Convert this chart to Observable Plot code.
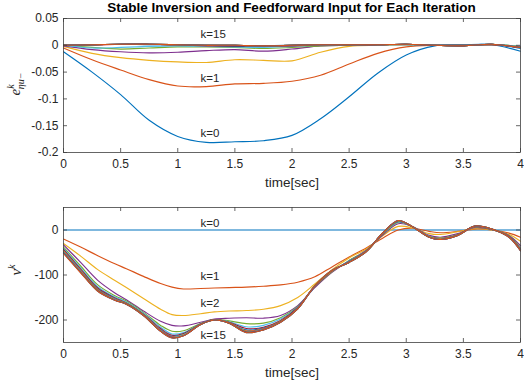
<!DOCTYPE html>
<html>
<head>
<meta charset="utf-8">
<script src="https://cdn.jsdelivr.net/npm/d3@7"></script>
<script src="https://cdn.jsdelivr.net/npm/@observablehq/plot@0.6"></script>
<style>
  html, body { margin: 0; padding: 0; background: #fff; }
  #wrap { position: relative; width: 524px; height: 384px; overflow: hidden; }
  #wrap svg { position: absolute; left: 0; }
  #title { position: absolute; left: 63px; width: 457px; top: 0; height: 17px; line-height: 17px;
           text-align: center; font: bold 13.5px "Liberation Sans", Arial, sans-serif; color: #000; z-index: 2; }
</style>
</head>
<body>
<div id="wrap"><div id="title">Stable Inversion and Feedforward Input for Each Iteration</div></div>
<script>
// ---------- data ----------
const xTicks = [0, 0.5, 1, 1.5, 2, 2.5, 3, 3.5, 4];
const yTicksTop = [0.05, 0, -0.05, -0.1, -0.15, -0.2];
const yTicksBottom = [0, -100, -200];
const colors = ["#0072BD", "#D95319", "#EDB120", "#7E2F8E", "#77AC30", "#4DBEEE", "#A2142F"];

// top panel: e^k over time
const tTop = [0, 0.25, 0.5, 0.75, 1, 1.25, 1.5, 1.75, 2, 2.25, 2.5, 2.75, 3, 3.25, 3.5, 3.75, 4];
const e0  = [-0.012, -0.050, -0.092, -0.140, -0.170, -0.181, -0.180, -0.178, -0.168, -0.137, -0.096, -0.052, -0.018, -0.001, 0.001, 0.001, -0.011];
const e1  = [-0.005, -0.027, -0.046, -0.064, -0.076, -0.077, -0.072, -0.071, -0.067, -0.056, -0.035, -0.015, -0.003, 0.000, 0.000, 0.001, -0.004];
const e2  = [-0.002, -0.015, -0.023, -0.028, -0.031, -0.032, -0.027, -0.028, -0.029, -0.013, -0.002, 0.000, 0.001, 0.000, 0.000, 0.001, -0.003];
const e3  = [-0.001, -0.008, -0.012, -0.014, -0.013, -0.010, -0.008, -0.011, -0.007, -0.001, 0.000, 0.001, 0.001, 0.000, 0.000, 0.001, -0.002];
const e4  = [0.000, -0.004, -0.007, -0.005, -0.003, -0.003, -0.004, -0.006, -0.004, -0.001, 0.000, 0.001, 0.001, 0.000, 0.000, 0.001, -0.003];
const e5  = [0.000, -0.005, -0.004, -0.002, -0.001, -0.002, -0.003, -0.004, -0.002, 0.000, 0.001, 0.001, 0.001, 0.000, 0.000, 0.001, -0.002];
const e6  = [0.000, 0.000, 0.002, 0.002, 0.001, -0.001, -0.002, -0.002, -0.001, 0.001, 0.001, 0.001, 0.002, 0.000, 0.000, 0.001, -0.003];
const e7  = [0.000, 0.001, 0.002, 0.001, 0.001, 0.000, -0.001, -0.001, 0.000, 0.001, 0.001, 0.001, 0.002, 0.000, 0.000, 0.002, -0.006];
const e8  = [0.000, 0.001, 0.002, 0.002, 0.001, 0.000, 0.000, -0.001, 0.000, 0.001, 0.001, 0.001, 0.002, 0.000, -0.001, 0.002, -0.004];
const e9  = [0.000, 0.001, 0.002, 0.002, 0.001, 0.000, 0.000, -0.001, 0.000, 0.001, 0.001, 0.001, 0.002, 0.000, -0.001, 0.002, -0.003];
const e10 = [0.000, 0.001, 0.002, 0.002, 0.001, 0.000, 0.000, -0.001, 0.000, 0.001, 0.001, 0.001, 0.002, 0.000, -0.001, 0.002, -0.004];
const e11 = [0.000, 0.001, 0.002, 0.002, 0.001, 0.000, 0.000, -0.001, 0.000, 0.001, 0.001, 0.001, 0.002, 0.000, -0.001, 0.002, -0.003];
const e12 = [0.000, 0.001, 0.002, 0.002, 0.001, 0.000, 0.000, -0.001, 0.000, 0.001, 0.001, 0.001, 0.002, 0.000, -0.001, 0.002, -0.003];
const e13 = [0.000, 0.001, 0.002, 0.002, 0.001, 0.000, 0.000, -0.001, 0.000, 0.001, 0.001, 0.001, 0.002, 0.000, -0.001, 0.002, -0.004];
const e14 = [0.000, 0.001, 0.002, 0.002, 0.001, 0.000, 0.000, -0.001, 0.000, 0.001, 0.001, 0.001, 0.002, 0.000, -0.001, 0.002, -0.004];
const e15 = [0.000, 0.001, 0.002, 0.002, 0.001, 0.000, 0.000, -0.001, 0.000, 0.001, 0.001, 0.001, 0.002, 0.000, -0.001, 0.002, -0.004];

// bottom panel: v^k over time
const tBot = [0, 0.15, 0.3, 0.45, 0.55, 0.7, 0.85, 0.95, 1.05, 1.2, 1.32, 1.45, 1.6, 1.75, 1.9, 2.05, 2.2, 2.35, 2.5, 2.65, 2.8, 2.93, 3.05, 3.2, 3.3, 3.45, 3.6, 3.75, 3.9, 4.0];
const v0  = [0, 0, 0, 0, 0, 0, 0, 0, 0, 0, 0, 0, 0, 0, 0, 0, 0, 0, 0, 0, 0, 0, 0, 0, 0, 0, 0, 0, 0, 0];
const v1  = [-20, -38, -57, -75, -86, -103, -119, -127, -131, -130, -129, -128, -127, -125, -122, -116, -104, -82, -60, -40, -17, 0, 4, -3, -6, -3, 2, 0, -7, -16];
const v2  = [-30, -58, -88, -112, -128, -152, -176, -188, -190, -186, -182, -180, -179, -176, -168, -150, -120, -88, -62, -42, -12, 8, 5, -8, -10, -4, 3, 0, -10, -25];
const v3  = [-33, -72, -112, -140, -155, -180, -203, -212, -213, -205, -198, -196, -195, -196, -190, -168, -128, -94, -68, -45, -10, 14, 8, -12, -16, -8, 5, 1, -12, -35];
const v4  = [-38, -80, -122, -146, -158, -183, -212, -225, -224, -208, -199, -202, -208, -207, -195, -170, -126, -93, -68, -46, -8, 17, 8, -14, -18, -10, 6, 1, -13, -40];
const v5  = [-41, -84, -126, -149, -160, -185, -216, -231, -228, -209, -199, -204, -215, -212, -198, -171, -125, -92, -69, -47, -7, 18, 8, -14, -19, -11, 7, 1, -14, -42];
const v6  = [-43, -87, -129, -151, -162, -187, -219, -234, -230, -209, -199, -205, -219, -216, -201, -172, -125, -92, -70, -47, -6, 19, 8, -15, -19, -11, 7, 1, -14, -43];
const v7  = [-45, -89, -131, -152, -163, -188, -221, -236, -232, -209, -199, -206, -222, -218, -203, -173, -125, -91, -70, -47, -6, 19, 8, -15, -20, -11, 8, 1, -15, -44];
const v8  = [-46, -90, -132, -153, -163, -188, -222, -237, -233, -210, -199, -206, -224, -219, -203, -174, -124, -91, -71, -47, -6, 20, 8, -15, -20, -11, 8, 1, -15, -44];
const v9  = [-47, -91, -133, -154, -164, -189, -223, -238, -233, -210, -200, -206, -225, -220, -204, -174, -124, -91, -71, -48, -6, 20, 8, -15, -20, -12, 8, 2, -15, -45];
const v10 = [-48, -92, -134, -154, -164, -189, -223, -238, -234, -210, -200, -207, -226, -220, -204, -174, -124, -90, -71, -48, -5, 20, 8, -16, -21, -12, 8, 2, -15, -45];
const v11 = [-49, -93, -134, -155, -164, -189, -224, -239, -234, -210, -200, -207, -226, -221, -204, -175, -124, -90, -72, -48, -5, 20, 8, -16, -21, -12, 9, 2, -16, -45];
const v12 = [-50, -93, -135, -155, -165, -190, -224, -239, -234, -210, -200, -207, -227, -221, -205, -175, -124, -90, -72, -48, -5, 21, 8, -16, -21, -12, 9, 2, -16, -46];
const v13 = [-51, -94, -135, -156, -165, -190, -225, -239, -235, -210, -200, -207, -227, -222, -205, -175, -124, -90, -72, -48, -5, 21, 8, -16, -21, -12, 9, 2, -16, -46];
const v14 = [-51, -94, -136, -156, -165, -190, -225, -240, -235, -210, -200, -207, -228, -222, -205, -175, -124, -90, -72, -48, -5, 21, 8, -16, -21, -12, 9, 2, -16, -46];
const v15 = [-52, -95, -136, -156, -165, -190, -225, -240, -235, -210, -200, -207, -228, -222, -205, -175, -124, -90, -72, -48, -5, 21, 8, -16, -21, -12, 9, 2, -16, -46];

// annotations
const topLabelText = ["k=15", "k=1", "k=0"];
const topLabelX = [1.2, 1.2, 1.2];
const topLabelY = [0.021, -0.061, -0.164];
const botLabelText = ["k=0", "k=1", "k=2", "k=15"];
const botLabelX = [1.2, 1.2, 1.2, 1.2];
const botLabelY = [15, -104, -163, -233];

// ---------- build ----------
const eSeries = [e0, e1, e2, e3, e4, e5, e6, e7, e8, e9, e10, e11, e12, e13, e14, e15];
const vSeries = [v0, v1, v2, v3, v4, v5, v6, v7, v8, v9, v10, v11, v12, v13, v14, v15];
const topRows = eSeries.flatMap((vals, k) => vals.map((v, i) => ({t: tTop[i], v, k})));
const botRows = vSeries.flatMap((vals, k) => vals.map((v, i) => ({t: tBot[i], v, k})));
const topLabels = topLabelText.map((s, i) => ({s, x: topLabelX[i], y: topLabelY[i]}));
const botLabels = botLabelText.map((s, i) => ({s, x: botLabelX[i], y: botLabelY[i]}));

const FONT = "'Liberation Sans', Arial, Helvetica, sans-serif";
const AX = "#404040";
const W = 524, ML = 63, MR = 4;

function panel({rows, yDomain, yTicks, height, mt, mb, labels}) {
  const ph = height - mt - mb, pw = W - ML - MR, tk = 4;
  return Plot.plot({
    width: W, height, marginLeft: ML, marginRight: MR, marginTop: mt, marginBottom: mb,
    style: {fontFamily: FONT, fontSize: "12px", color: "#262626", background: "transparent"},
    x: {domain: [0, 4]},
    y: {domain: yDomain},
    marks: [
      Plot.line(rows, {x: "t", y: "v", z: "k", stroke: d => colors[d.k % colors.length],
                       strokeWidth: 1.15, curve: "catmull-rom"}),
      Plot.frame({stroke: AX, strokeWidth: 0.8}),
      Plot.tickX(xTicks, {x: d => d, insetTop: ph - tk, stroke: AX, strokeWidth: 0.8}),
      Plot.tickX(xTicks, {x: d => d, insetBottom: ph - tk, stroke: AX, strokeWidth: 0.8}),
      Plot.tickY(yTicks, {y: d => d, insetRight: pw - tk, stroke: AX, strokeWidth: 0.8}),
      Plot.tickY(yTicks, {y: d => d, insetLeft: pw - tk, stroke: AX, strokeWidth: 0.8}),
      Plot.axisX({ticks: xTicks, tickSize: 0, tickPadding: 7, tickFormat: d => String(d), label: null, fontSize: 12}),
      Plot.axisY({ticks: yTicks, tickSize: 0, tickPadding: 5, tickFormat: d => String(d), label: null, fontSize: 12}),
      Plot.text(["time[sec]"], {frameAnchor: "bottom", dy: 30, lineAnchor: "middle", fontSize: 13.5, fill: "#262626"}),
      Plot.text(labels, {x: "x", y: "y", text: "s", textAnchor: "start", lineAnchor: "middle", fontSize: 11.5, fill: "#262626"})
    ]
  });
}

const topSvg = panel({rows: topRows, yDomain: [-0.2, 0.05], yTicks: yTicksTop, height: 190, mt: 18, mb: 38, labels: topLabels});
const botSvg = panel({rows: botRows, yDomain: [-250, 50], yTicks: yTicksBottom, height: 194, mt: 17, mb: 42, labels: botLabels});
topSvg.style.top = "0px";
botSvg.style.top = "190px";
const wrap = document.getElementById("wrap");
wrap.appendChild(topSvg);
wrap.appendChild(botSvg);

// y-axis labels (math-style, serif italic), positioned in each SVG's own coordinates
function ylabel(svg, cx, cy, build) {
  const g = d3.select(svg).append("text")
    .attr("transform", `translate(${cx},${cy}) rotate(-90)`)
    .attr("text-anchor", "middle")
    .attr("font-family", "'Liberation Serif', 'DejaVu Serif', serif")
    .attr("font-style", "italic")
    .attr("font-size", 15)
    .attr("fill", "#262626");
  build(g);
}
ylabel(topSvg, 20, 84, g => {
  g.append("tspan").text("e");
  g.append("tspan").attr("dy", -6).attr("font-size", 10).text("k");
  g.append("tspan").attr("dx", -5).attr("dy", 10).attr("font-size", 10).text("ηu−");
});
ylabel(botSvg, 21, 80, g => {
  g.append("tspan").text("v");
  g.append("tspan").attr("dy", -6).attr("font-size", 10).text("k");
});
</script>
</body>
</html>
